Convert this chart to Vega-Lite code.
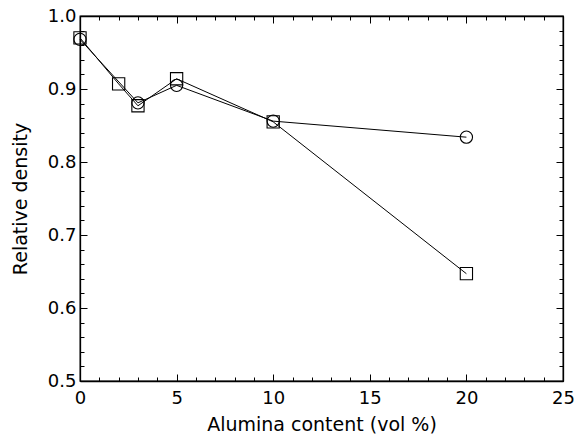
{
  "$schema": "https://vega.github.io/schema/vega-lite/v6.json",
  "autosize": {"type": "none"},
  "padding": {"left": 80, "top": 16, "right": 14, "bottom": 56},
  "width": 483,
  "height": 365,
  "background": "white",
  "config": {
    "view": {"stroke": "black", "strokeWidth": 1.3},
    "font": "DejaVu Sans",
    "axis": {
      "domainColor": "black",
      "domainWidth": 1.3,
      "tickColor": "black",
      "tickWidth": 1,
      "labelColor": "black",
      "titleColor": "black",
      "labelFont": "DejaVu Sans",
      "titleFont": "DejaVu Sans",
      "labelFontSize": 18,
      "titleFontSize": 19,
      "titleFontWeight": "normal",
      "grid": false
    }
  },
  "data": {
    "values": [
      {"x": 0, "y": 0.968, "series": "circle"},
      {"x": 3, "y": 0.881, "series": "circle"},
      {"x": 5, "y": 0.905, "series": "circle"},
      {"x": 10, "y": 0.856, "series": "circle"},
      {"x": 20, "y": 0.834, "series": "circle"},
      {"x": 0, "y": 0.97, "series": "square"},
      {"x": 2, "y": 0.907, "series": "square"},
      {"x": 3, "y": 0.877, "series": "square"},
      {"x": 5, "y": 0.914, "series": "square"},
      {"x": 10, "y": 0.855, "series": "square"},
      {"x": 20, "y": 0.647, "series": "square"}
    ]
  },
  "layer": [
    {
      "mark": {"type": "line", "color": "black", "strokeWidth": 1},
      "encoding": {
        "x": {
          "field": "x", "type": "quantitative",
          "scale": {"domain": [0, 25], "nice": false, "zero": false},
          "axis": {
            "orient": "bottom",
            "title": "Alumina content (vol %)",
            "values": [0,1,2,3,4,5,6,7,8,9,10,11,12,13,14,15,16,17,18,19,20,21,22,23,24,25],
            "labelExpr": "datum.value % 5 === 0 ? datum.label : ''",
            "tickSize": -7,
            "tickDash": {"condition": {"test": "datum.value % 5 !== 0", "value": [4, 20]}, "value": [20, 0]},
            "labelPadding": 15,
            "titlePadding": 8,
            "labelFlush": false,
            "labelOverlap": false
          }
        },
        "y": {
          "field": "y", "type": "quantitative",
          "scale": {"domain": [0.5, 1.0], "nice": false, "zero": false},
          "axis": {
            "orient": "left",
            "title": "Relative density",
            "values": [0.5,0.52,0.54,0.56,0.58,0.6,0.62,0.64,0.66,0.68,0.7,0.72,0.74,0.76,0.78,0.8,0.82,0.84,0.86,0.88,0.9,0.92,0.94,0.96,0.98,1.0],
            "labelExpr": "abs(datum.value*10 - round(datum.value*10)) < 0.001 ? format(datum.value, '.1f') : ''",
            "tickSize": -7,
            "tickDash": {"condition": {"test": "abs(datum.value*10 - round(datum.value*10)) > 0.001", "value": [4, 20]}, "value": [20, 0]},
            "labelPadding": 11,
            "titlePadding": 17,
            "labelFlush": false,
            "labelOverlap": false
          }
        },
        "detail": {"field": "series"}
      }
    },
    {
      "mark": {"type": "point", "filled": false, "color": "black", "strokeWidth": 1.1, "opacity": 1},
      "encoding": {
        "x": {
          "field": "x", "type": "quantitative",
          "axis": {
            "orient": "top", "title": null, "labels": false,
            "values": [0,1,2,3,4,5,6,7,8,9,10,11,12,13,14,15,16,17,18,19,20,21,22,23,24,25],
            "tickSize": -7,
            "tickDash": {"condition": {"test": "datum.value % 5 !== 0", "value": [4, 20]}, "value": [20, 0]}
          }
        },
        "y": {
          "field": "y", "type": "quantitative",
          "axis": {
            "orient": "right", "title": null, "labels": false,
            "values": [0.5,0.52,0.54,0.56,0.58,0.6,0.62,0.64,0.66,0.68,0.7,0.72,0.74,0.76,0.78,0.8,0.82,0.84,0.86,0.88,0.9,0.92,0.94,0.96,0.98,1.0],
            "tickSize": -7,
            "tickDash": {"condition": {"test": "abs(datum.value*10 - round(datum.value*10)) > 0.001", "value": [4, 20]}, "value": [20, 0]}
          }
        },
        "shape": {
          "field": "series", "type": "nominal",
          "scale": {"domain": ["circle", "square"], "range": ["circle", "square"]},
          "legend": null
        },
        "size": {"value": 150}
      }
    }
  ],
  "resolve": {"axis": {"x": "independent", "y": "independent"}}
}
